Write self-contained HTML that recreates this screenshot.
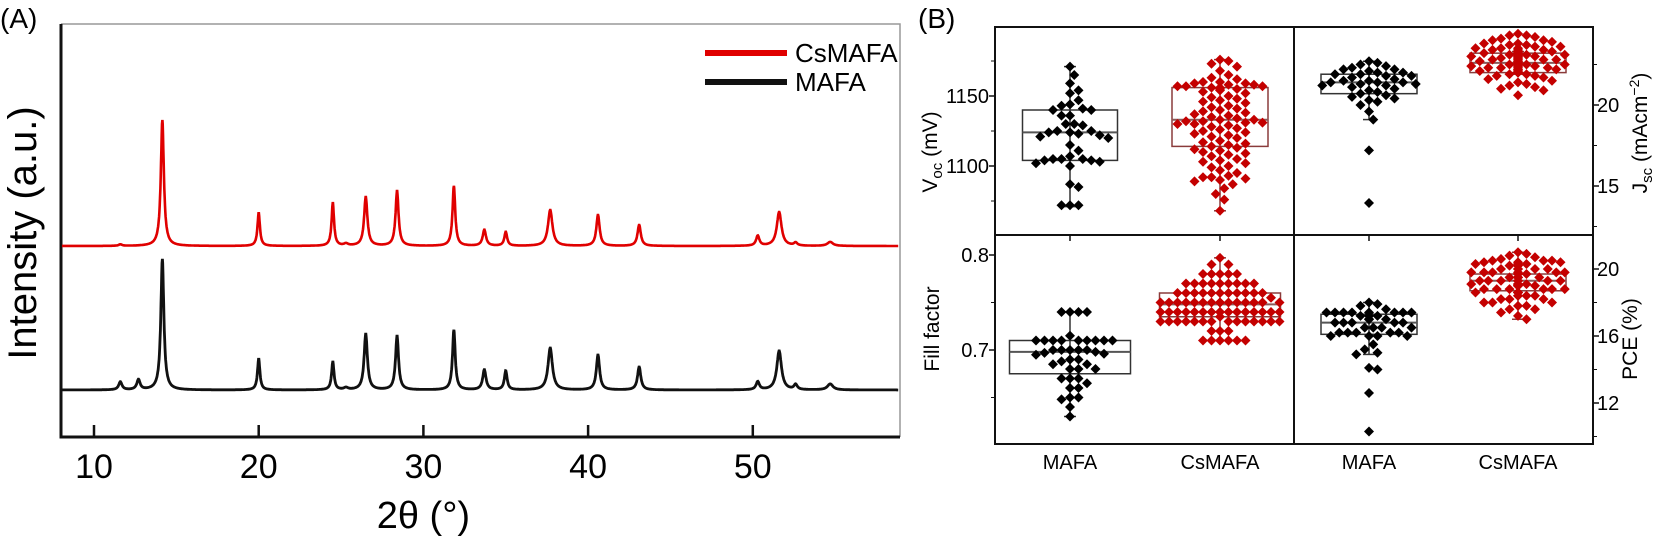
<!DOCTYPE html>
<html><head><meta charset="utf-8"><style>
html,body{margin:0;padding:0;background:#fff;}
svg{display:block;font-family:"Liberation Sans",Arial,sans-serif;}
</style></head><body>
<svg id="fig" width="1653" height="537" viewBox="0 0 1653 537" xmlns="http://www.w3.org/2000/svg">
<g id="panelA"></g>
<g id="panelB"></g>
</svg>
<script>
// ---------- Panel A data ----------
const peakPos   = [11.6, 12.7, 14.15, 20.0, 24.5, 25.3, 26.5, 28.4, 31.85, 33.7, 35.0, 37.7, 40.6, 43.1, 50.3, 51.6, 52.6, 54.7];
const redPeaks  = [1.5, 0, 126, 33, 43, 2, 49, 55, 60, 16, 14, 36, 31, 21, 10, 34, 3, 4];
const blackPeaks= [8, 10, 131, 31, 28, 2, 56, 54, 60, 20, 19, 42, 35, 23, 8, 39, 5, 6];
const peakWidth = [0.12, 0.12, 0.11, 0.09, 0.09, 0.15, 0.12, 0.11, 0.1, 0.12, 0.1, 0.16, 0.12, 0.12, 0.12, 0.17, 0.12, 0.2];
const xTicksA   = [10, 20, 30, 40, 50];

// ---------- Panel B data ----------
const vocMAFA = [1171,1165,1159,1154,1152,1147,1144,1143,1141,1140,1140,1136,1136,1130,1130,1129,1125,1125,1124,1124,1123,1122,1121,1120,1115,1111,1107,1105,1105,1105,1104,1104,1103,1102,1100,1087,1085,1072,1072,1072];
const vocCs = [1176,1175,1173,1171,1168,1165,1163,1162,1160,1160,1159,1159,1158,1158,1157,1157,1157,1156,1156,1155,1155,1154,1153,1152,1150,1149,1148,1147,1146,1145,1143,1142,1141,1140,1139,1138,1137,1136,1135,1134,1133,1133,1132,1132,1131,1131,1130,1130,1129,1128,1127,1126,1125,1124,1123,1122,1121,1120,1118,1117,1116,1115,1114,1113,1112,1111,1110,1109,1108,1107,1105,1104,1103,1102,1100,1099,1097,1095,1093,1092,1092,1091,1090,1089,1087,1084,1080,1076,1068];
const jscMAFA = [22.7,22.6,22.5,22.4,22.3,22.2,22.2,22.1,22.0,22.0,21.9,21.9,21.8,21.8,21.7,21.6,21.5,21.5,21.4,21.4,21.4,21.3,21.3,21.2,21.2,21.1,21.0,20.9,20.8,20.7,20.6,20.5,20.4,20.3,20.2,20.0,19.6,19.1,17.2,13.95];
const jscCs = [24.4,24.3,24.3,24.2,24.1,24.0,24.0,23.9,23.8,23.8,23.7,23.7,23.6,23.6,23.5,23.5,23.5,23.4,23.4,23.4,23.3,23.3,23.3,23.3,23.2,23.2,23.2,23.2,23.1,23.1,23.1,23.1,23.0,23.0,23.0,23.0,22.9,22.9,22.9,22.9,22.8,22.8,22.8,22.8,22.7,22.7,22.7,22.7,22.6,22.6,22.6,22.6,22.5,22.5,22.5,22.5,22.4,22.4,22.4,22.4,22.3,22.3,22.3,22.3,22.2,22.2,22.2,22.1,22.1,22.1,22.0,22.0,22.0,21.9,21.9,21.8,21.8,21.7,21.6,21.5,21.4,21.3,21.2,21.1,21.0,20.9,20.6];
const ffMAFA = [0.74,0.74,0.74,0.74,0.715,0.71,0.71,0.71,0.71,0.71,0.71,0.71,0.71,0.71,0.70,0.70,0.70,0.70,0.70,0.698,0.697,0.696,0.695,0.69,0.69,0.688,0.685,0.685,0.68,0.68,0.68,0.67,0.67,0.67,0.665,0.66,0.66,0.65,0.65,0.648,0.64,0.63];
const ffCs = [0.797,0.79,0.79,0.78,0.78,0.78,0.78,0.78,0.77,0.77,0.77,0.77,0.77,0.77,0.77,0.77,0.77,0.76,0.76,0.76,0.76,0.76,0.76,0.76,0.76,0.76,0.76,0.76,0.755,0.75,0.75,0.75,0.75,0.75,0.75,0.75,0.75,0.75,0.75,0.75,0.75,0.75,0.75,0.75,0.75,0.74,0.74,0.74,0.74,0.74,0.74,0.74,0.74,0.74,0.74,0.74,0.74,0.74,0.74,0.74,0.74,0.735,0.73,0.73,0.73,0.73,0.73,0.73,0.73,0.73,0.73,0.73,0.73,0.73,0.73,0.73,0.72,0.72,0.72,0.71,0.71,0.71,0.71,0.71,0.71];
const pceMAFA = [18.0,17.9,17.8,17.6,17.4,17.4,17.4,17.4,17.4,17.4,17.4,17.4,17.2,17.2,17.2,17.2,17.0,17.0,17.0,17.0,17.0,16.8,16.8,16.8,16.8,16.8,16.5,16.5,16.5,16.5,16.2,16.2,16.2,16.2,16.2,16.0,16.0,16.0,16.0,15.5,15.2,15.0,14.9,14.1,14.0,12.6,10.3];
const pceCs = [21.0,20.9,20.8,20.7,20.6,20.5,20.5,20.5,20.4,20.4,20.4,20.3,20.3,20.3,20.2,20.2,20.2,20.2,20.0,20.0,20.0,20.0,20.0,19.8,19.8,19.8,19.8,19.8,19.8,19.7,19.7,19.7,19.7,19.7,19.7,19.5,19.5,19.5,19.5,19.5,19.5,19.3,19.3,19.3,19.3,19.3,19.3,19.3,19.1,19.1,19.1,19.1,19.1,19.1,19.0,19.0,19.0,19.0,19.0,19.0,18.8,18.8,18.8,18.8,18.8,18.8,18.6,18.6,18.6,18.6,18.6,18.4,18.4,18.4,18.4,18.2,18.2,18.2,18.0,18.0,18.0,17.8,17.8,17.6,17.6,17.4,17.2,17.0];
// box stats: [whiskerLow, q1, median, q3, whiskerHigh]
const vocBoxMAFA = [1071,1104,1124,1140,1171];
const vocBoxCs   = [1068,1114,1133,1156,1176];
const jscBoxMAFA = [19.1,20.7,21.4,21.9,22.7];
const jscBoxCs   = [21.9,22.0,22.6,23.2,23.3];
const ffBoxMAFA  = [0.63,0.675,0.698,0.71,0.74];
const ffBoxCs    = [0.71,0.735,0.748,0.76,0.797];
const pceBoxMAFA = [14.9,16.1,16.8,17.3,18.0];
const pceBoxCs   = [17.0,18.7,19.3,19.7,21.0];
const categories = ["MAFA","CsMAFA"];
const vocTicks = [1100,1150];
const jscTicks = [15,20];
const ffTicks  = [0.7,0.8];
const pceTicks = [12,16,20];

const NS="http://www.w3.org/2000/svg";
function mk(tag, attrs, parent, text){
  const e=document.createElementNS(NS,tag);
  for(const k in attrs) e.setAttribute(k,attrs[k]);
  if(text!==undefined) e.textContent=text;
  parent.appendChild(e); return e;
}
const A=document.getElementById('panelA');
const Bp=document.getElementById('panelB');

// ---------- Panel A ----------
const aL=61,aR=900,aT=24,aB=437;
const xA = v => 94 + (v-10)*16.47;
const yRed = v => 246 - v;
const yBlack = v => 390 - v;
let t;
t=mk('text',{x:0,y:28,'font-size':28},A,'(A)');
 
let fr=mk('path',{d:`M${aL} ${aT} H${aR} V${aB}`,fill:'none',stroke:'#999','stroke-width':1.5},A);
 
let ax=mk('path',{d:`M${aL} ${aT} V${aB} H${aR}`,fill:'none',stroke:'#111','stroke-width':3},A);
 
xTicksA.forEach(v=>{
  let l=mk('line',{x1:xA(v),x2:xA(v),y1:aB,y2:aB-12,stroke:'#111','stroke-width':2.5},A);
   
  let tx=mk('text',{x:xA(v),y:478,'font-size':34,'text-anchor':'middle'},A,String(v));
   
});
t=mk('text',{x:xA(30),y:528,'font-size':38,'text-anchor':'middle'},A,'2θ (°)');
 
t=mk('text',{x:0,y:0,'font-size':40,'text-anchor':'middle',transform:'translate(36,233) rotate(-90)'},A,'Intensity (a.u.)');
 
function curve(heights, yf){
  let d='';
  for(let x=8.05;x<=58.85;x+=0.02){
    let s=0;
    for(let i=0;i<peakPos.length;i++){const w=peakWidth[i];const u=(x-peakPos[i])/w; s+=heights[i]/(1+u*u);}
    d+=(d?'L':'M')+xA(x).toFixed(1)+' '+yf(s).toFixed(1);
  }
  return d;
}
let pr=mk('path',{d:curve(redPeaks,yRed),fill:'none',stroke:'#e00000','stroke-width':2.6},A);
 
let pb=mk('path',{d:curve(blackPeaks,yBlack),fill:'none',stroke:'#111','stroke-width':2.8},A);
 
let lg=mk('g',{},A);
 
let l1=mk('line',{x1:705,x2:787,y1:53,y2:53,stroke:'#e00000','stroke-width':6},lg);
 
t=mk('text',{x:795,y:62,'font-size':26},lg,'CsMAFA');
 
let l2=mk('line',{x1:705,x2:787,y1:82,y2:82,stroke:'#111','stroke-width':6},lg);
 
t=mk('text',{x:795,y:91,'font-size':26},lg,'MAFA');
 

// ---------- Panel B ----------
const L=995,M=1294,R=1593,T=27,Mid=235,Bo=444;
const yVoc = v => 96 + (1150-v)*1.4;
const yJsc = v => 105 + (20-v)*16.2;
const yFF  = v => 255 + (0.8-v)*950;
const yPCE = v => 269 + (20-v)*16.75;
const xLeft=[1070,1220], xRight=[1369,1518];
t=mk('text',{x:918,y:28,'font-size':28},Bp,'(B)');
 
let bf=mk('rect',{x:L,y:T,width:R-L,height:Bo-T,fill:'none',stroke:'#111','stroke-width':2},Bp);
 
let dv=mk('line',{x1:M,x2:M,y1:T,y2:Bo,stroke:'#111','stroke-width':2},Bp);
 
let dh=mk('line',{x1:L,x2:R,y1:Mid,y2:Mid,stroke:'#111','stroke-width':2},Bp);
 
xLeft.concat(xRight).forEach((x,i)=>{
  let tk=mk('line',{x1:x,x2:x,y1:Mid,y2:Mid+6,stroke:'#111','stroke-width':1.5},Bp);
   
  let tx=mk('text',{x:x,y:469,'font-size':20,'text-anchor':'middle'},Bp,categories[i%2]);
   
});
function leftTicks(ticks,yf,fmt,minor){
  ticks.forEach(v=>{
    let l=mk('line',{x1:L-6,x2:L,y1:yf(v),y2:yf(v),stroke:'#111','stroke-width':1.5},Bp);
     
    let tx=mk('text',{x:L-6,y:yf(v)+7,'font-size':20,'text-anchor':'end'},Bp,fmt(v));
     
  });
  minor.forEach(v=>{
    let l=mk('line',{x1:L-4,x2:L,y1:yf(v),y2:yf(v),stroke:'#111','stroke-width':1},Bp);
     
  });
}
function rightTicks(ticks,yf,minor){
  ticks.forEach(v=>{
    let l=mk('line',{x1:R,x2:R+6,y1:yf(v),y2:yf(v),stroke:'#111','stroke-width':1.5},Bp);
     
    let tx=mk('text',{x:R+4,y:yf(v)+7,'font-size':20},Bp,String(v));
     
  });
  minor.forEach(v=>{
    let l=mk('line',{x1:R,x2:R+4,y1:yf(v),y2:yf(v),stroke:'#111','stroke-width':1},Bp);
     
  });
}
leftTicks(vocTicks,yVoc,v=>String(v),[1075,1125,1175]);
leftTicks(ffTicks,yFF,v=>v.toFixed(1),[0.65,0.75]);
rightTicks(jscTicks,yJsc,[12.5,17.5,22.5]);
rightTicks(pceTicks,yPCE,[10,14,18]);
t=mk('text',{x:0,y:0,'font-size':21,'text-anchor':'middle',transform:'translate(937,152) rotate(-90)'},Bp);
 
t.innerHTML='V<tspan font-size="15" dy="5">oc</tspan><tspan dy="-5"> (mV)</tspan>';
t=mk('text',{x:0,y:0,'font-size':21,'text-anchor':'middle',transform:'translate(939,329) rotate(-90)'},Bp,'Fill factor');
 
t=mk('text',{x:0,y:0,'font-size':21,'text-anchor':'middle',transform:'translate(1647,133) rotate(-90)'},Bp);
 
t.innerHTML='J<tspan font-size="15" dy="5">sc</tspan><tspan dy="-5"> (mAcm</tspan><tspan font-size="14" dy="-8">−2</tspan><tspan dy="8">)</tspan>';
t=mk('text',{x:0,y:0,'font-size':21,'text-anchor':'middle',transform:'translate(1637,339) rotate(-90)'},Bp,'PCE (%)');
 

function boxplot(stats,yf,cx,w,isRed,name){
  const g=mk('g',{},Bp);
   
  const col=isRed?'#8a3b3b':'#333';
  mk('line',{x1:cx,x2:cx,y1:yf(stats[0]),y2:yf(stats[4]),stroke:col,'stroke-width':1.5},g);
  mk('line',{x1:cx-6,x2:cx+6,y1:yf(stats[0]),y2:yf(stats[0]),stroke:col,'stroke-width':1.5},g);
  mk('line',{x1:cx-6,x2:cx+6,y1:yf(stats[4]),y2:yf(stats[4]),stroke:col,'stroke-width':1.5},g);
  mk('rect',{x:cx-w/2,y:yf(stats[3]),width:w,height:yf(stats[1])-yf(stats[3]),fill:'none',stroke:col,'stroke-width':1.5},g);
  mk('line',{x1:cx-w/2,x2:cx+w/2,y1:yf(stats[2]),y2:yf(stats[2]),stroke:isRed?'#8a5a5a':'#555','stroke-width':2},g);
}
function swarm(vals,yf,cx,maxHalf,isRed,name){
  const g=mk('g',{},Bp);
   
  const d=8.5, placed=[];
  const col=isRed?'#c40000':'#000';
  vals.forEach(v=>{
    const y=yf(v); let x=cx;
    for(let k=0;k<60;k++){
      const off=(k%2?1:-1)*Math.ceil(k/2)*d/2;
      const tx=cx+off;
      if(Math.abs(off)>maxHalf) continue;
      if(placed.every(p=>Math.hypot(p[0]-tx,p[1]-y)>=d)){x=tx;break;}
    }
    placed.push([x,y]);
    const s=5;
    const p=mk('polygon',{points:`${x},${y-s} ${x+s},${y} ${x},${y+s} ${x-s},${y}`,fill:col},g);
    
    
  });
}
boxplot(vocBoxMAFA,yVoc,xLeft[0],95,false,'voc-mafa');
boxplot(vocBoxCs,yVoc,xLeft[1],96,true,'voc-csmafa');
boxplot(jscBoxMAFA,yJsc,xRight[0],96,false,'jsc-mafa');
boxplot(jscBoxCs,yJsc,xRight[1],96,true,'jsc-csmafa');
boxplot(ffBoxMAFA,yFF,xLeft[0],121,false,'ff-mafa');
boxplot(ffBoxCs,yFF,xLeft[1],121,true,'ff-csmafa');
boxplot(pceBoxMAFA,yPCE,xRight[0],96,false,'pce-mafa');
boxplot(pceBoxCs,yPCE,xRight[1],96,true,'pce-csmafa');
swarm(vocMAFA,yVoc,xLeft[0],48,false,'voc-mafa');
swarm(vocCs,yVoc,xLeft[1],50,true,'voc-csmafa');
swarm(jscMAFA,yJsc,xRight[0],48,false,'jsc-mafa');
swarm(jscCs,yJsc,xRight[1],50,true,'jsc-csmafa');
swarm(ffMAFA,yFF,xLeft[0],58,false,'ff-mafa');
swarm(ffCs,yFF,xLeft[1],60,true,'ff-csmafa');
swarm(pceMAFA,yPCE,xRight[0],48,false,'pce-mafa');
swarm(pceCs,yPCE,xRight[1],50,true,'pce-csmafa');
</script>
</body></html>
